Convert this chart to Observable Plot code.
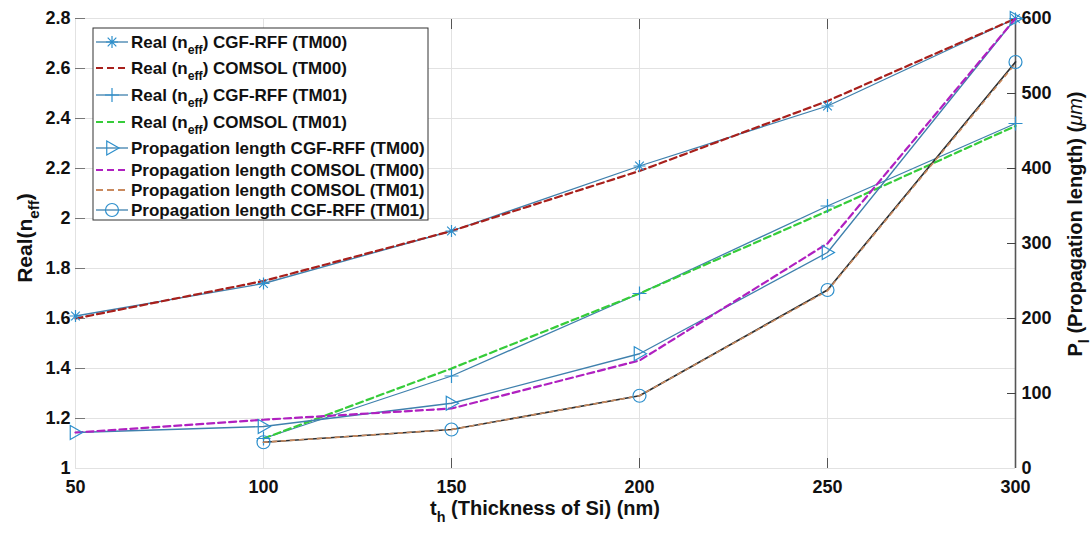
<!DOCTYPE html>
<html>
<head>
<meta charset="utf-8">
<script src="https://cdn.jsdelivr.net/npm/d3@7"></script>
<script src="https://cdn.jsdelivr.net/npm/@observablehq/plot@0.6"></script>
<style>
  html, body { margin: 0; padding: 0; background: #fff; }
  #chart { position: relative; width: 1092px; height: 534px; }
  svg { font-family: "Liberation Sans", Arial, sans-serif; }
</style>
</head>
<body>
<div id="chart"></div>
<script>
// ---- data ----
const thickness = [50, 100, 150, 200, 250, 300];
const thicknessTM01 = [100, 150, 200, 250, 300];

const realTM00_CGF = [1.61, 1.74, 1.95, 2.21, 2.45, 2.80];
const realTM00_COMSOL = [1.60, 1.75, 1.95, 2.19, 2.47, 2.80];
const realTM01_CGF = [1.12, 1.37, 1.70, 2.05, 2.38];
const realTM01_COMSOL = [1.12, 1.40, 1.70, 2.03, 2.37];

const propTM00_CGF = [48, 56, 87, 153, 288, 600];
const propTM00_COMSOL = [48, 65, 80, 144, 300, 600];
const propTM01_COMSOL = [35, 52, 97, 237, 540];
const propTM01_CGF = [35, 52, 97, 238, 542];

const xTicks = [50, 100, 150, 200, 250, 300];
const yTicks = [1, 1.2, 1.4, 1.6, 1.8, 2, 2.2, 2.4, 2.6, 2.8];
const yTickLabels = ["1", "1.2", "1.4", "1.6", "1.8", "2", "2.2", "2.4", "2.6", "2.8"];
const rightTicks = [0, 100, 200, 300, 400, 500, 600];

const yMin = 1, yMax = 2.8, pMax = 600;
// map the right-axis quantity (propagation length) onto the left scale
const toLeft = p => yMin + p * (yMax - yMin) / pMax;

const rows = (xs, ys) => xs.map((x, i) => ({x, y: ys[i]}));
const prow = (xs, ps) => xs.map((x, i) => ({x, y: toLeft(ps[i])}));

// ---- colours ----
const cBlue = "#3f80ad";
const cMark = "#2d8fcc";
const cRed = "#a8201c";
const cGreen = "#36cc3a";
const cMag = "#b020c0";
const cTan = "#c98a5e";
const cDark = "#2a2e31";

// ---- custom symbols ----
const rad = s => Math.sqrt(s / Math.PI);
const asterisk8 = {draw(ctx, s) { const r = rad(s), d = r * 0.72;
  ctx.moveTo(-r, 0); ctx.lineTo(r, 0); ctx.moveTo(0, -r); ctx.lineTo(0, r);
  ctx.moveTo(-d, -d); ctx.lineTo(d, d); ctx.moveTo(-d, d); ctx.lineTo(d, -d); }};
const plus = {draw(ctx, s) { const r = rad(s);
  ctx.moveTo(-r, 0); ctx.lineTo(r, 0); ctx.moveTo(0, -r); ctx.lineTo(0, r); }};
const triRight = {draw(ctx, s) { const r = rad(s);
  ctx.moveTo(-r * 0.75, -r); ctx.lineTo(r, 0); ctx.lineTo(-r * 0.75, r); ctx.closePath(); }};

const dash = "7,4";
const font = {fontFamily: "'Liberation Sans', Arial, sans-serif", fontWeight: "bold", fontSize: "18px", color: "#111", background: "transparent", overflow: "visible"};

const chart = Plot.plot({
  width: 1092, height: 534,
  marginLeft: 75, marginRight: 77, marginTop: 18, marginBottom: 66,
  style: font,
  x: {domain: [50, 300], label: null},
  y: {domain: [yMin, yMax], label: null},
  marks: [
    Plot.gridX(xTicks, {stroke: "#e2e2e2", strokeOpacity: 1}),
    Plot.gridY(yTicks, {stroke: "#e2e2e2", strokeOpacity: 1}),
    // left axis: labels and inward ticks
    Plot.axisY(yTicks, {label: null, tickSize: 0, tickPadding: 5, tickFormat: (d, i) => yTickLabels[i], fill: "#111", fontSize: 18, fontWeight: "bold"}),
    Plot.axisY(yTicks.slice(1), {label: null, tickSize: 10, dx: 10, text: null, stroke: "#777"}),
    // bottom axis labels and inward ticks
    Plot.axisX(xTicks, {label: null, tickSize: 0, tickPadding: 12, fill: "#111", fontSize: 18, fontWeight: "bold"}),
    Plot.axisX([150, 200, 250], {label: null, tickSize: 10, dy: -10, text: null, stroke: "#555"}),
    Plot.axisX([150, 200, 250], {label: null, anchor: "top", tickSize: 10, dy: 10, text: null, stroke: "#555"}),
    // right axis
    Plot.ruleX([300], {stroke: "#555", strokeWidth: 1.6}),
    Plot.axisY(rightTicks.map(toLeft), {label: null, anchor: "right", tickSize: 0, tickPadding: 6,
      tickFormat: (d, i) => String(rightTicks[i]), fill: "#111", fontSize: 18, fontWeight: "bold"}),
    Plot.axisY(rightTicks.slice(1, -1).map(toLeft), {label: null, anchor: "right", tickSize: 9, dx: -9, text: null, stroke: "#444"}),

    // Real TM00
    Plot.line(rows(thickness, realTM00_CGF), {x: "x", y: "y", stroke: cBlue, strokeWidth: 1.3}),
    Plot.line(rows(thickness, realTM00_COMSOL), {x: "x", y: "y", stroke: cRed, strokeWidth: 2.2, strokeDasharray: dash}),
    Plot.dot(rows(thickness, realTM00_CGF), {x: "x", y: "y", symbol: asterisk8, r: 6, stroke: cMark, strokeWidth: 1.2, fill: "none"}),
    // Real TM01
    Plot.line(rows(thicknessTM01, realTM01_CGF), {x: "x", y: "y", stroke: cBlue, strokeWidth: 1.3}),
    Plot.line(rows(thicknessTM01, realTM01_COMSOL), {x: "x", y: "y", stroke: cGreen, strokeWidth: 2.2, strokeDasharray: dash}),
    Plot.dot(rows(thicknessTM01, realTM01_CGF), {x: "x", y: "y", symbol: plus, r: 7, stroke: cMark, strokeWidth: 1.2, fill: "none"}),
    // Propagation TM00
    Plot.line(prow(thickness, propTM00_CGF), {x: "x", y: "y", stroke: cBlue, strokeWidth: 1.3}),
    Plot.line(prow(thickness, propTM00_COMSOL), {x: "x", y: "y", stroke: cMag, strokeWidth: 2.2, strokeDasharray: dash}),
    Plot.dot(prow(thickness, propTM00_CGF), {x: "x", y: "y", symbol: triRight, r: 7, stroke: cMark, strokeWidth: 1.2, fill: "none"}),
    // Propagation TM01
    Plot.line(prow(thicknessTM01, propTM01_CGF), {x: "x", y: "y", stroke: cDark, strokeWidth: 1.7}),
    Plot.line(prow(thicknessTM01, propTM01_COMSOL), {x: "x", y: "y", stroke: cTan, strokeWidth: 1.6, strokeDasharray: "4,5"}),
    Plot.dot(prow(thicknessTM01, propTM01_CGF), {x: "x", y: "y", symbol: "circle", r: 6.5, stroke: cMark, strokeWidth: 1.2, fill: "none"})
  ]
});

document.getElementById("chart").appendChild(chart);

// ---- axis titles and legend ----
const svg = d3.select(chart);
const ff = "'Liberation Sans', Arial, sans-serif";

function subText(g, parts, size, anchor) {
  // parts: [text, kind] kind: "n" normal, "s" subscript, "i" italic
  const t = g.append("text").attr("font-family", ff).attr("font-weight", "bold")
    .attr("font-size", size).attr("fill", "#111").attr("text-anchor", anchor || "start");
  let prevSub = false;
  parts.forEach(([s, k]) => {
    const ts = t.append("tspan").text(s);
    if (k === "s") { ts.attr("dy", size * 0.35).attr("font-size", size * 0.72); prevSub = true; }
    else { if (prevSub) ts.attr("dy", -size * 0.35); prevSub = false;
      if (k === "i") ts.attr("font-style", "italic").attr("font-weight", "normal"); }
  });
  return t;
}

// x label
subText(svg.append("g").attr("transform", "translate(545,515)"),
  [["t", "n"], ["h", "s"], [" (Thickness of Si) (nm)", "n"]], 20, "middle");
// left y label
subText(svg.append("g").attr("transform", "translate(32,238) rotate(-90)"),
  [["Real(n", "n"], ["eff", "s"], [")", "n"]], 21, "middle");
// right y label
subText(svg.append("g").attr("transform", "translate(1082,224) rotate(-90)"),
  [["P", "n"], ["l", "s"], [" (Propagation length) (", "n"], ["\u03bcm", "i"], [")", "n"]], 20, "middle");

// legend
const leg = svg.append("g");
leg.append("rect").attr("x", 93).attr("y", 28).attr("width", 335).attr("height", 192)
  .attr("fill", "#fff").attr("stroke", "#333").attr("stroke-width", 1);

const legendItems = [
  {parts: [["Real (n", "n"], ["eff", "s"], [") CGF-RFF (TM00)", "n"]], line: cBlue, dash: null, sym: asterisk8, r: 6},
  {parts: [["Real (n", "n"], ["eff", "s"], [") COMSOL (TM00)", "n"]], line: cRed, dash: dash},
  {parts: [["Real (n", "n"], ["eff", "s"], [") CGF-RFF (TM01)", "n"]], line: cBlue, dash: null, sym: plus, r: 7},
  {parts: [["Real (n", "n"], ["eff", "s"], [") COMSOL (TM01)", "n"]], line: cGreen, dash: dash},
  {parts: [["Propagation length CGF-RFF (TM00)", "n"]], line: cBlue, dash: null, sym: triRight, r: 7},
  {parts: [["Propagation length COMSOL (TM00)", "n"]], line: cMag, dash: dash},
  {parts: [["Propagation length COMSOL (TM01)", "n"]], line: cTan, dash: dash},
  {parts: [["Propagation length CGF-RFF (TM01)", "n"]], line: cBlue, dash: null, sym: d3.symbolCircle, r: 6.5}
];
const legendY = [42, 68, 95, 122, 148, 170, 190, 210];
legendItems.forEach((it, i) => {
  const y = legendY[i];
  const g = leg.append("g").attr("transform", `translate(0,${y})`);
  g.append("line").attr("x1", 96).attr("x2", 128).attr("y1", 0).attr("y2", 0)
    .attr("stroke", it.line).attr("stroke-width", it.dash ? 2.2 : 1.3)
    .attr("stroke-dasharray", it.dash || null);
  if (it.sym) {
    g.append("path").attr("transform", "translate(112,0)")
      .attr("d", d3.symbol(it.sym, it.r * it.r * Math.PI)())
      .attr("fill", "none").attr("stroke", cMark).attr("stroke-width", 1.2);
  }
  subText(g.append("g").attr("transform", "translate(131,6)"), it.parts, 17, "start");
});
</script>
</body>
</html>
